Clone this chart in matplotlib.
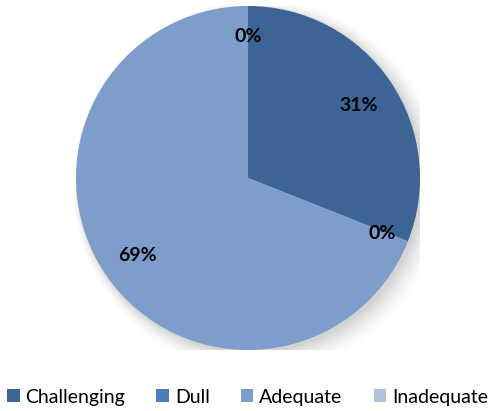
import matplotlib
matplotlib.use("Agg")
import matplotlib.pyplot as plt
import numpy as np
from matplotlib.patches import Circle

categories = ["Challenging", "Dull", "Adequate", "Inadequate"]
values = [31, 0, 69, 0]
colors = ["#3C6494", "#4A7EBB", "#7F9DCB", "#B0C1DE"]

plt.rcParams['font.family'] = ['Lato', 'DejaVu Sans']

fig = plt.figure(figsize=(4.95, 4.11), dpi=100)
W, H = 495, 411
cx, cy, R = 248, 178, 172
ax = fig.add_axes([(cx - R) / W, (H - cy - R) / H, 2 * R / W, 2 * R / H])
ax.set_xlim(-1, 1)
ax.set_ylim(-1, 1)
ax.set_aspect('equal')
ax.axis('off')

# soft shadow
for i, a in enumerate(np.linspace(0.035, 0.008, 8)):
    ax.add_patch(Circle((0.02 + i * 0.006, -0.02 - i * 0.004), 1.0 + i * 0.012,
                        facecolor='black', alpha=a, edgecolor='none', zorder=0))

wedges, _ = ax.pie(values, colors=colors, startangle=90, counterclock=False,
                   radius=1.0, wedgeprops=dict(linewidth=0), frame=False)
for w in wedges:
    w.set_zorder(2)
ax.set_xlim(-1, 1)
ax.set_ylim(-1, 1)

total = sum(values)
start = 90.0
for v in values:
    sweep = 360.0 * v / total
    mid = start - sweep / 2
    d = 0.78 if v > 0 else 0.84
    ang = np.deg2rad(mid)
    ax.text(d * np.cos(ang), d * np.sin(ang) - 0.015, f"{v}%", ha='center', va='center',
            fontsize=14, fontweight='bold', color='black', zorder=5)
    start -= sweep

fig.legend(wedges, categories, loc='center', bbox_to_anchor=(0.5, (H - 397) / H),
           ncol=4, frameon=False, fontsize=14, handlelength=0.65, handleheight=0.65,
           handletextpad=0.3, columnspacing=1.6, borderaxespad=0)

fig.savefig("out.png", dpi=100)
